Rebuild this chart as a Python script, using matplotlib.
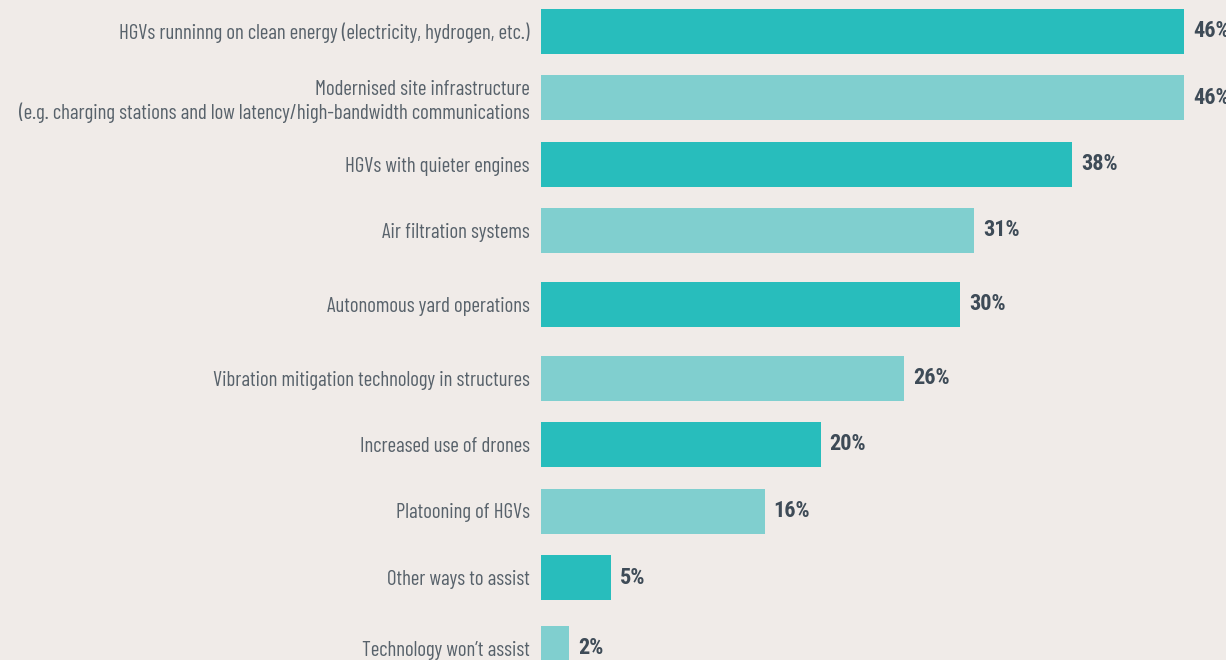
import matplotlib
matplotlib.use("Agg")
import matplotlib.pyplot as plt
from matplotlib.transforms import offset_copy

# Survey answers, top to bottom
labels = [
    "HGVs runninng on clean energy (electricity, hydrogen, etc.)",
    "Modernised site infrastructure\n(e.g. charging stations and low latency/high-bandwidth communications",
    "HGVs with quieter engines",
    "Air filtration systems",
    "Autonomous yard operations",
    "Vibration mitigation technology in structures",
    "Increased use of drones",
    "Platooning of HGVs",
    "Other ways to assist",
    "Technology won\u2019t assist",
]
values = [46, 46, 38, 31, 30, 26, 20, 16, 5, 2]

# row centres in pixels from the top of the figure
row_y = [31, 97.5, 164, 230.5, 304, 378, 444.5, 511, 577.5, 648.5]

W, H = 1226, 660
bg = "#f0ebe8"
dark = "#28bdbc"
light = "#80cfcf"
label_col = "#58626b"
value_col = "#3e4b57"

plt.rcParams['font.family'] = ['Barlow Condensed', 'Roboto Condensed', 'DejaVu Sans']

fig = plt.figure(figsize=(W / 100, H / 100), dpi=100, facecolor=bg)
left = 541
ax = fig.add_axes([left / W, 0, (W - left) / W, 1])
ax.set_facecolor(bg)

px_per_pct = 643 / 46
ax.set_xlim(0, (W - left) / px_per_pct)
ax.set_ylim(H, 0)

colors = [dark if i % 2 == 0 else light for i in range(len(values))]
ax.barh(row_y, values, height=45, color=colors)

ax.set_yticks(row_y)
ax.set_yticklabels(labels, fontsize=15, color=label_col, ha='right', linespacing=1.2)
ax.tick_params(axis='y', length=0, pad=8)
ax.set_xticks([])
for s in ax.spines.values():
    s.set_visible(False)

trans = offset_copy(ax.transData, fig=fig, x=9, y=0, units='dots')
for y, v in zip(row_y, values):
    ax.text(v, y, f"{v}%", transform=trans, ha='left', va='center',
            family=['Roboto Condensed', 'DejaVu Sans'],
            fontsize=16, fontweight='bold', color=value_col, clip_on=False)

fig.savefig("out.png", facecolor=bg)
